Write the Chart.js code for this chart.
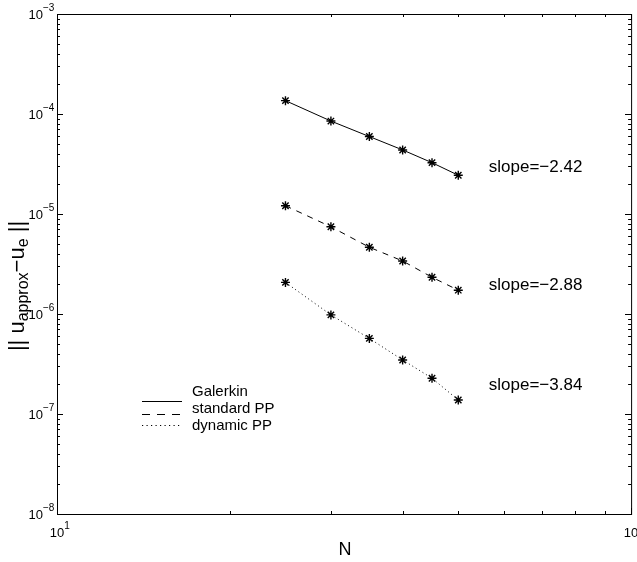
<!DOCTYPE html>
<html>
<head>
<meta charset="utf-8">
<script src="https://cdn.jsdelivr.net/npm/chart.js@4/dist/chart.umd.min.js"></script>
<style>
  html, body { margin: 0; padding: 0; background: #fff; }
  #wrap { width: 637px; height: 562px; }
</style>
</head>
<body>
<div id="wrap"><canvas id="myChart"></canvas></div>
<script>
const N = [25, 30, 35, 40, 45, 50];
const galerkin = [1.36e-4, 8.5e-5, 5.95e-5, 4.37e-5, 3.26e-5, 2.44e-5];
const standardPP = [1.21e-5, 7.45e-6, 4.65e-6, 3.39e-6, 2.33e-6, 1.73e-6];
const dynamicPP = [2.07e-6, 9.8e-7, 5.7e-7, 3.47e-7, 2.28e-7, 1.38e-7];

const seriesNames = ["Galerkin", "standard PP", "dynamic PP"];
const slopeLabels = ["slope=\u22122.42", "slope=\u22122.88", "slope=\u22123.84"];
const slopeY = [2.9e-5, 1.95e-6, 1.95e-7];
const slopeX = 56.5;

const xTickExps = [1, 2];
const yTickExps = [-8, -7, -6, -5, -4, -3];

const FONT = "'Liberation Sans', Arial, Helvetica, sans-serif";

function pts(vals) {
	return N.map((n, i) => ({ x: n, y: vals[i] }));
}

const matlabAxes = {
	id: "matlabAxes",
	afterDraw(chart) {
		const ctx = chart.ctx;
		const a = chart.chartArea;
		const xs = chart.scales.x;
		const ys = chart.scales.y;
		ctx.save();
		ctx.strokeStyle = "#000";
		ctx.lineWidth = 1;
		ctx.setLineDash([]);
		ctx.strokeRect(a.left + 0.5, a.top + 0.5, a.right - a.left, a.bottom - a.top);

		// x ticks (inside, top and bottom)
		ctx.beginPath();
		for (let d = 1; d < 2; d++) {
			for (let m = 1; m <= 10; m++) {
				const v = m * Math.pow(10, d);
				const px = Math.round(xs.getPixelForValue(v)) + 0.5;
				const len = (m === 1 || m === 10) ? 6 : 3;
				ctx.moveTo(px, a.bottom);
				ctx.lineTo(px, a.bottom - len);
				ctx.moveTo(px, a.top);
				ctx.lineTo(px, a.top + len);
			}
		}
		// y ticks (inside, left and right)
		for (let d = -8; d < -3; d++) {
			for (let m = 1; m <= 10; m++) {
				const v = m * Math.pow(10, d);
				const py = Math.round(ys.getPixelForValue(v)) + 0.5;
				const len = (m === 1 || m === 10) ? 6 : 3;
				ctx.moveTo(a.left, py);
				ctx.lineTo(a.left + len, py);
				ctx.moveTo(a.right, py);
				ctx.lineTo(a.right - len, py);
			}
		}
		ctx.stroke();

		// tick labels
		ctx.fillStyle = "#000";
		yTickExps.forEach(e => {
			const py = ys.getPixelForValue(Math.pow(10, e));
			ctx.font = "13px " + FONT;
			ctx.textAlign = "right";
			ctx.textBaseline = "middle";
			ctx.fillText("10", 43, py + 1);
			ctx.font = "10px " + FONT;
			ctx.textAlign = "left";
			ctx.fillText("\u2212" + Math.abs(e), 43, py - 6);
		});
		xTickExps.forEach(e => {
			const px = xs.getPixelForValue(Math.pow(10, e));
			ctx.font = "13px " + FONT;
			ctx.textAlign = "center";
			ctx.textBaseline = "middle";
			ctx.fillText("10", px, 533);
			const w = ctx.measureText("10").width;
			ctx.font = "10px " + FONT;
			ctx.textAlign = "left";
			ctx.fillText(String(e), px + w / 2, 526);
		});

		// x axis title
		ctx.font = "18px " + FONT;
		ctx.textAlign = "center";
		ctx.textBaseline = "middle";
		ctx.fillText("N", 345, 550);

		// y axis title with subscripts, rotated
		const parts = [
			["|| u", 22, 0],
			["approx", 16, 6],
			["\u2212u", 22, 0],
			["e", 16, 6],
			[" ||", 22, 0]
		];
		let total = 0;
		parts.forEach(p => { ctx.font = p[1] + "px " + FONT; total += ctx.measureText(p[0]).width; });
		ctx.translate(18, 286);
		ctx.rotate(-Math.PI / 2);
		ctx.textAlign = "left";
		ctx.textBaseline = "middle";
		let cx = -total / 2;
		parts.forEach(p => {
			ctx.font = p[1] + "px " + FONT;
			ctx.fillText(p[0], cx, p[2]);
			cx += ctx.measureText(p[0]).width;
		});
		ctx.setTransform(1, 0, 0, 1, 0, 0);

		// slope annotations
		ctx.font = "17px " + FONT;
		ctx.textAlign = "left";
		ctx.textBaseline = "middle";
		slopeLabels.forEach((s, i) => {
			ctx.fillText(s, xs.getPixelForValue(slopeX), ys.getPixelForValue(slopeY[i]));
		});

		// legend
		const dashes = [[], [8, 7], [1.2, 3.3]];
		const lineY = [401.5, 414.5, 425.5];
		const textY = [392, 409, 426];
		seriesNames.forEach((name, i) => {
			ctx.beginPath();
			ctx.setLineDash(dashes[i]);
			ctx.lineWidth = 1;
			ctx.strokeStyle = "#000";
			ctx.moveTo(142, lineY[i]);
			ctx.lineTo(182, lineY[i]);
			ctx.stroke();
			ctx.setLineDash([]);
			ctx.font = "15px " + FONT;
			ctx.textAlign = "left";
			ctx.textBaseline = "middle";
			ctx.fillText(name, 192, textY[i]);
		});
		ctx.restore();
	}
};

const common = {
	borderColor: "#000",
	borderWidth: 1,
	pointStyle: "star",
	pointRadius: 4.5,
	pointBorderWidth: 1.4,
	pointBorderColor: "#000",
	pointBackgroundColor: "#000",
	fill: false,
	tension: 0
};

const myChart = new Chart(document.getElementById("myChart"), {
	type: "line",
	data: {
		datasets: [
			Object.assign({ label: seriesNames[0], data: pts(galerkin) }, common),
			Object.assign({ label: seriesNames[1], data: pts(standardPP), borderDash: [6, 6] }, common),
			Object.assign({ label: seriesNames[2], data: pts(dynamicPP), borderDash: [1, 3], borderColor: "#333" }, common)
		]
	},
	options: {
		responsive: true,
		maintainAspectRatio: false,
		animation: false,
		events: [],
		layout: { padding: { left: 57, right: 5, top: 14, bottom: 48 } },
		plugins: {
			legend: { display: false },
			tooltip: { enabled: false }
		},
		scales: {
			x: { type: "logarithmic", min: 10, max: 100, display: false },
			y: { type: "logarithmic", min: 1e-8, max: 1e-3, display: false }
		}
	},
	plugins: [matlabAxes]
});
</script>
</body>
</html>
